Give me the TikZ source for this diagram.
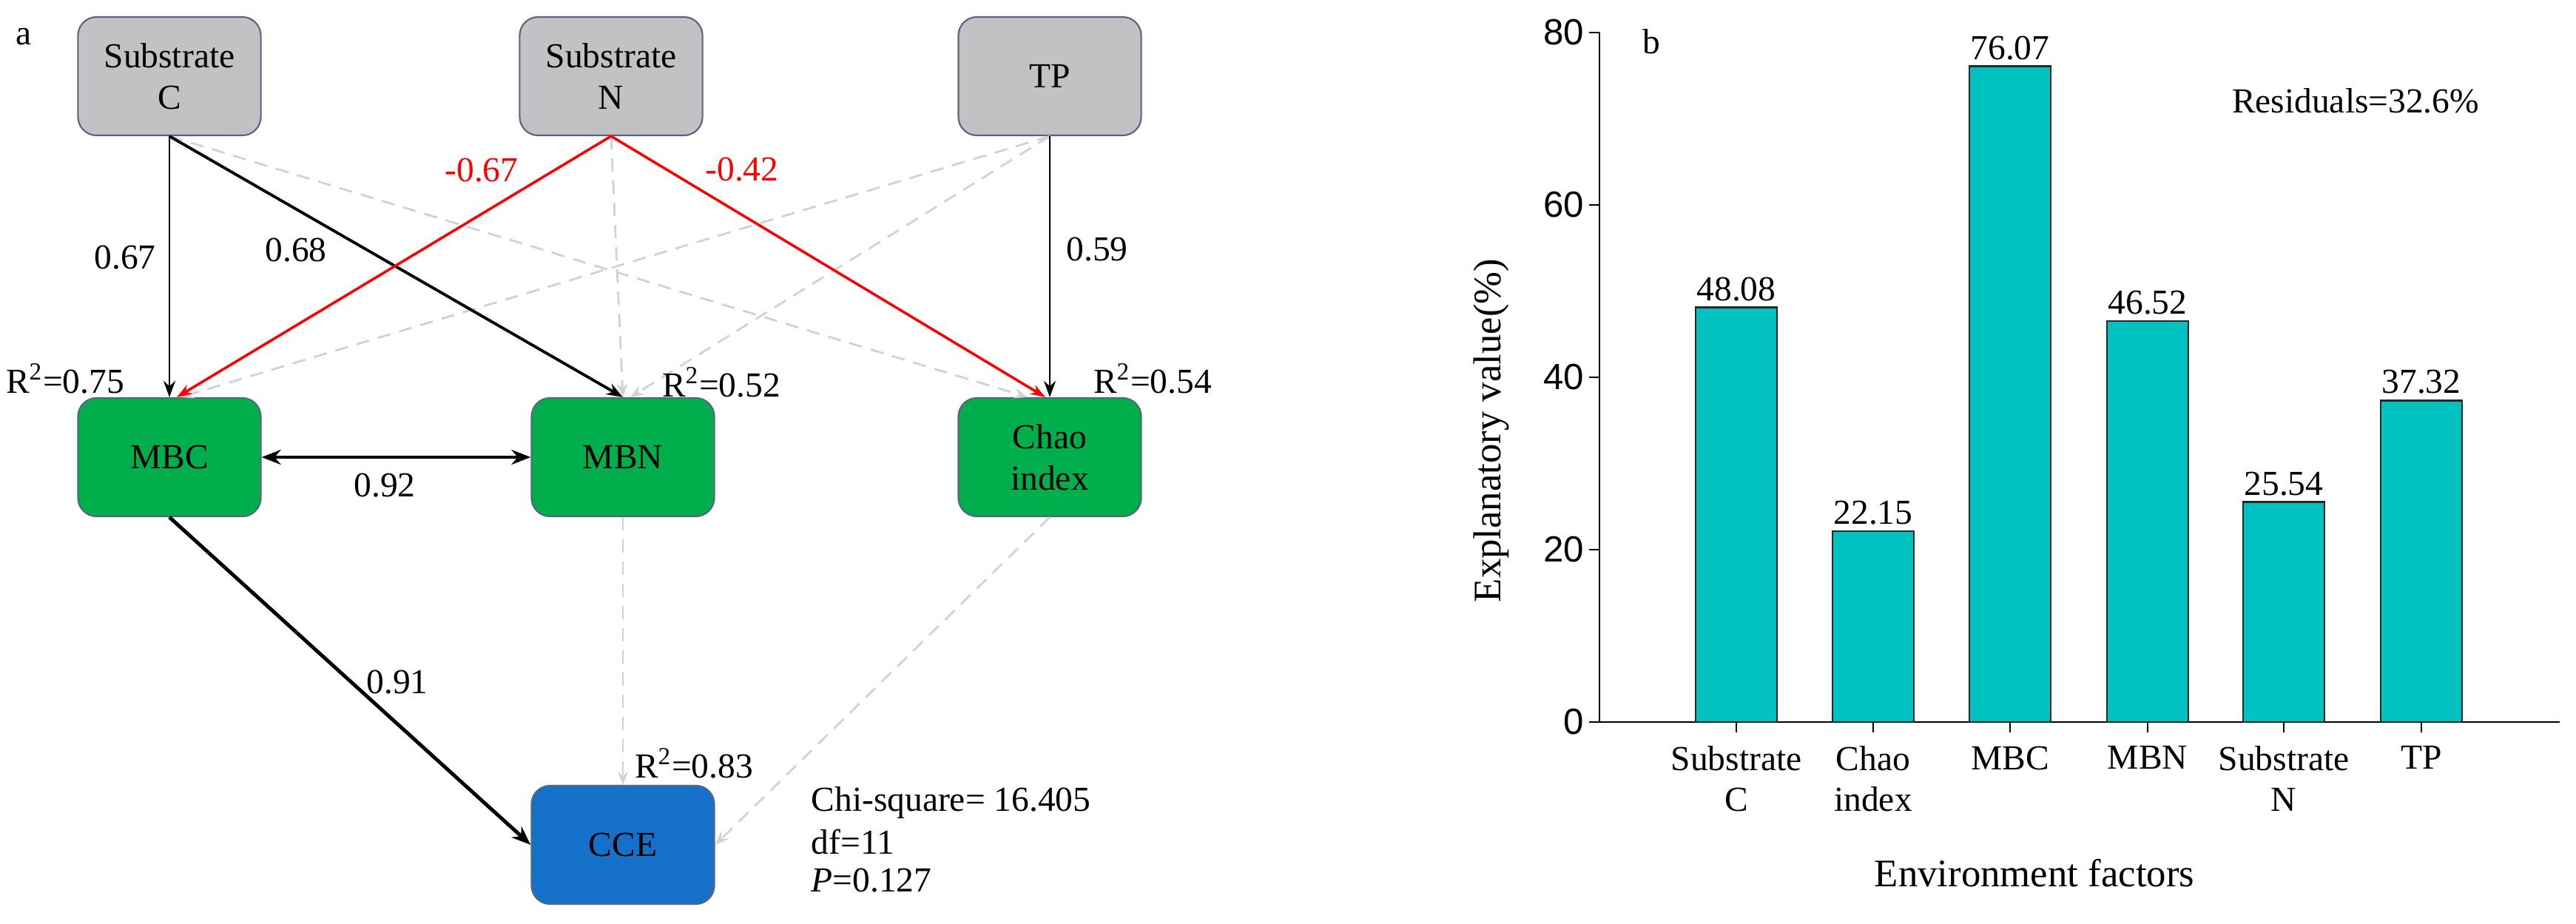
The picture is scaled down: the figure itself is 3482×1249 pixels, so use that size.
\documentclass[tikz,border=0pt]{standalone}
\usepackage{fontspec}
\setmainfont{Liberation Serif}
\newfontfamily\sansf{Liberation Sans}
\usetikzlibrary{arrows.meta}
\definecolor{gbox}{HTML}{C2C2C4}
\definecolor{gedge}{HTML}{56657F}
\definecolor{grn}{HTML}{00AF4C}
\definecolor{blu}{HTML}{1570C9}
\definecolor{teal}{HTML}{00C2C0}
\definecolor{dash}{HTML}{D2D2D2}
\begin{document}
\begin{tikzpicture}[x=0.01cm,y=-0.01cm,
  every node/.style={font=\fontsize{13.5}{16}\selectfont, inner sep=0pt},
  box/.style={rounded corners=0.25cm, minimum width=2.47cm, minimum height=1.6cm, align=center, draw=gedge, line width=0.6pt},
  top/.style={box, fill=gbox},
  mid/.style={box, fill=grn},
  cce/.style={box, fill=blu},
  blk/.style={draw=black, line width=0.8pt, -{Stealth[length=0.22cm,width=0.16cm]}},
  thk/.style={draw=black, line width=1.4pt, -{Stealth[length=0.26cm,width=0.2cm]}},
  red/.style={draw=red, line width=1pt, -{Stealth[length=0.2cm,width=0.14cm]}},
  gd/.style={draw=dash, line width=0.8pt, dash pattern=on 0.18cm off 0.12cm, -{Stealth[length=0.18cm,width=0.14cm]}},
  lbl/.style={},
  bar/.style={fill=teal, draw=black!85, line width=0.8pt}
]
\useasboundingbox (0,0) rectangle (3482,1249);
% ---------- panel a ----------
\node (a) at (32,50) {a};
\node[top] (sc) at (229,103) {Substrate\\C};
\node[top] (sn) at (826,103) {Substrate\\N};
\node[top] (tp) at (1419,103) {TP};
\node[mid] (mbc) at (229,618) {MBC};
\node[mid] (mbn) at (842,618) {MBN};
\node[mid] (chao) at (1419,618) {Chao\\index};
\node[cce] (cce) at (842,1142) {CCE};
% dashed non-significant paths
\draw[gd] (sc.south) -- ([xshift=-0.3cm]chao.north);
\draw[gd] (tp.south) -- ([xshift=0.15cm]mbc.north);
\draw[gd] (tp.south) -- ([xshift=0.1cm]mbn.north);
\draw[gd] (sn.south) -- (mbn.north);
\draw[gd] (mbn.south) -- (cce.north);
\draw[gd] (chao.south) -- ([yshift=0cm]cce.east);
% significant paths
\draw[blk] (sc.south) -- (mbc.north);
\draw[blk, line width=1.1pt] (sc.south) -- (mbn.north);
\draw[red] (sn.south) -- ([xshift=0.1cm]mbc.north);
\draw[red] (sn.south) -- ([xshift=-0.06cm]chao.north);
\draw[blk] (tp.south) -- (chao.north);
\draw[thk, {Stealth[length=0.26cm,width=0.2cm]}-{Stealth[length=0.26cm,width=0.2cm]}] (mbc.east) -- (mbn.west);
\draw[thk] (mbc.south) -- (cce.west);
% labels
\node (l1) at (169,348) {0.67};
\node (l2) at (400,338) {0.68};
\node[text=red] (l3) at (651,230) {-0.67};
\node[text=red] (l4) at (1003,229) {-0.42};
\node (l5) at (1483,337) {0.59};
\node (l6) at (520,656) {0.92};
\node (l7) at (537,922) {0.91};
\node (r1) at (88,512) {R$^{\mathrm{2}}$=0.75};
\node (r2) at (975,517) {R$^{\mathrm{2}}$=0.52};
\node (r3) at (1558,512) {R$^{\mathrm{2}}$=0.54};
\node (r4) at (938,1032) {R$^{\mathrm{2}}$=0.83};
\node[anchor=west] (chi) at (1096,1085) {Chi-square= 16.405};
\node[anchor=west] (df) at (1096,1138) {df=11};
\node[anchor=west] (pp) at (1096,1190) {\textit{P}=0.127};
% ---------- panel b ----------
\draw[line width=0.8pt] (2162,44) -- (2162,976) -- (3460,976);
\foreach \v/\t in {0/0,20/20,40/40,60/60,80/80}{
  \draw[line width=0.8pt] (2148,976-11.65*\v) -- (2162,976-11.65*\v);
  \node[anchor=east, font=\sansf\fontsize{14}{16}\selectfont] (t\v) at (2142,976-11.65*\v) {\t};
}
\node (b) at (2232,56) {b};
\node[rotate=90, font=\fontsize{15}{18}\selectfont] (yl) at (2016,582) {Explanatory value(\%)};
\node[font=\fontsize{15}{18}\selectfont] (xl) at (2750,1180) {Environment factors};
\node (res) at (3184,136) {Residuals=32.6\%};
\foreach \c/\v/\name in {2347/48.08/Substrate\\C, 2532/22.15/Chao\\index, 2717/76.07/MBC, 2903/46.52/MBN, 3087/25.54/Substrate\\N, 3273/37.32/TP}{
  \draw[bar] (\c-55,976) rectangle (\c+55,976-11.65*\v);
  \draw[line width=0.8pt] (\c,976) -- (\c,990);
  \node[anchor=south] at (\c,976-11.65*\v-8) {\v};
  \node[anchor=north, align=center, font=\fontsize{13.5}{15.5}\selectfont] at (\c,1008) {\name};
}
\end{tikzpicture}
\end{document}
